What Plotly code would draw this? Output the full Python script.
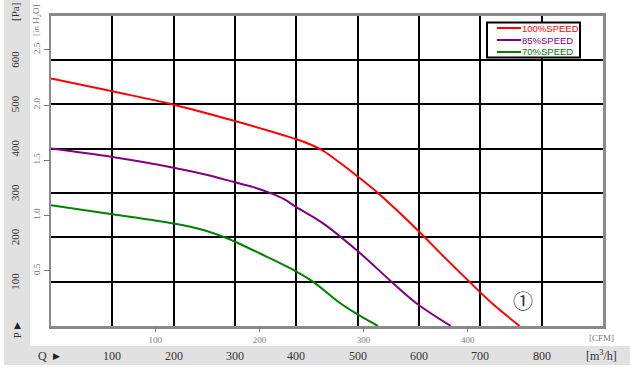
import plotly.graph_objects as go

# ---------------- data ----------------
series_names = ["100%SPEED", "85%SPEED", "70%SPEED"]
series_colors = ["#ff0000", "#800080", "#008000"]

q_100 = [0, 100, 200, 300, 400, 425, 445, 470, 500, 533, 567, 600, 640, 682, 720, 764]
p_100 = [558, 529, 499, 462, 421, 408, 394, 369, 337, 300, 257, 213, 157, 100, 50, 0]

q_85 = [0, 100, 200, 250, 300, 330, 357, 380, 400, 443, 500, 555, 598, 652]
p_85 = [400, 381, 357, 342, 324, 313, 300, 286, 268, 232, 169, 100, 49, 0]

q_70 = [0, 100, 200, 250, 283, 300, 340, 389, 427, 470, 500, 533]
p_70 = [272, 252, 231, 216, 200, 190, 164, 131, 100, 53, 26, 0]

pa_ticks = [100, 200, 300, 400, 500, 600]
m3h_ticks = [100, 200, 300, 400, 500, 600, 700, 800]
cfm_ticks = [100, 200, 300, 400]
inh2o_ticks = [0.5, 1.0, 1.5, 2.0, 2.5]
inh2o_labels = ["0.5", "1.0", "1.5", "2.0", "2.5"]

Q_MAX = 900
P_MAX = 700
M3H_PER_CFM = 1.699
PA_PER_INH2O = 249.09

W, H = 630, 372
def px(x):
    return x / W
def py(y):
    return (H - y) / H

SERIF = "Liberation Serif, Times New Roman, serif"
SANS = "Liberation Sans, Arial, sans-serif"

fig = go.Figure()
for q, p, c in zip([q_100, q_85, q_70], [p_100, p_85, p_70], series_colors):
    fig.add_trace(go.Scatter(x=q, y=p, mode="lines", line=dict(color=c, width=2, shape="spline", smoothing=1.0),
                             showlegend=False, hoverinfo="skip"))

# invisible trace to activate secondary axes
fig.add_trace(go.Scatter(x=[0], y=[0], xaxis="x2", yaxis="y2", mode="markers",
                         marker=dict(opacity=0), showlegend=False, hoverinfo="skip"))

frame_col = "#8a8a8a"
fig.update_layout(
    width=W, height=H,
    margin=dict(l=0, r=0, t=0, b=0),
    paper_bgcolor="white", plot_bgcolor="white",
    xaxis=dict(domain=[px(51), px(603)], range=[0, Q_MAX], tickvals=m3h_ticks, showticklabels=False,
               ticks="", showgrid=True, gridcolor="black", gridwidth=2, zeroline=False,
               showline=True, mirror=True, linecolor=frame_col, linewidth=2.5, fixedrange=True),
    yaxis=dict(domain=[py(326), py(15.5)], range=[0, P_MAX], tickvals=pa_ticks, showticklabels=False,
               ticks="", showgrid=True, gridcolor="black", gridwidth=2, zeroline=False,
               showline=True, mirror=True, linecolor=frame_col, linewidth=2.5, fixedrange=True),
    xaxis2=dict(overlaying="x", anchor="y", side="bottom", range=[0, Q_MAX / M3H_PER_CFM],
                tickvals=cfm_ticks, ticks="outside", ticklen=5, tickwidth=1, tickcolor="#777",
                showgrid=False, zeroline=False, showline=False, fixedrange=True,
                tickfont=dict(family=SERIF, size=9, color="#777")),
    yaxis2=dict(overlaying="y", anchor="x", side="left", range=[0, P_MAX / PA_PER_INH2O],
                tickvals=inh2o_ticks, ticktext=inh2o_labels, ticks="outside", ticklen=6, tickwidth=1,
                tickcolor="#777", tickangle=-90, showgrid=False, zeroline=False, showline=False, fixedrange=True,
                tickfont=dict(family=SERIF, size=9, color="#777")),
)

shapes = []
strip_col = "#e1e1e1"
# gray strips
shapes.append(dict(type="rect", xref="paper", yref="paper", x0=px(4), x1=px(30), y0=py(365), y1=py(0),
                   fillcolor=strip_col, line=dict(width=0), layer="below"))
shapes.append(dict(type="rect", xref="paper", yref="paper", x0=px(4), x1=px(630), y0=py(365), y1=py(346),
                   fillcolor=strip_col, line=dict(width=0), layer="below"))
# legend box
shapes.append(dict(type="rect", xref="paper", yref="paper", x0=px(487), x1=px(580), y0=py(57.5), y1=py(22.5),
                   fillcolor="white", line=dict(color="black", width=2), layer="above"))
leg_y = [28, 40, 52]
annotations = []
for name, col, ly in zip(series_names, series_colors, leg_y):
    shapes.append(dict(type="line", xref="paper", yref="paper", x0=px(497), x1=px(521), y0=py(ly), y1=py(ly),
                       line=dict(color=col, width=2), layer="above"))
    annotations.append(dict(xref="paper", yref="paper", x=px(520), y=py(ly), text=name, showarrow=False,
                            xanchor="left", yanchor="middle", font=dict(family=SANS, size=9.5, color=col)))

# Pa labels in left strip
for v in pa_ticks:
    annotations.append(dict(xref="paper", yref="y", x=px(15), y=v, text=str(v), textangle=-90, showarrow=False,
                            xanchor="center", yanchor="middle", font=dict(family=SERIF, size=11, color="#333")))
annotations.append(dict(xref="paper", yref="paper", x=px(15), y=py(12), text="[Pa]", textangle=-90, showarrow=False,
                        xanchor="center", yanchor="middle", font=dict(family=SERIF, size=11, color="#333")))
annotations.append(dict(xref="paper", yref="paper", x=px(17), y=py(325), text="▲", showarrow=False,
                        xanchor="center", yanchor="middle", font=dict(family="DejaVu Sans", size=9, color="#222")))
annotations.append(dict(xref="paper", yref="paper", x=px(17), y=py(335), text="P", textangle=-90, showarrow=False,
                        xanchor="center", yanchor="middle", font=dict(family=SERIF, size=10, color="#333")))
annotations.append(dict(xref="paper", yref="paper", x=px(37), y=py(21), text="[in H<sub>2</sub>O]", textangle=-90,
                        showarrow=False, xanchor="center", yanchor="middle",
                        font=dict(family=SERIF, size=9, color="#777")))

# m3/h labels in bottom strip
for v in m3h_ticks:
    annotations.append(dict(xref="x", yref="paper", x=v, y=py(355.5), text=str(v), showarrow=False,
                            xanchor="center", yanchor="middle", font=dict(family=SERIF, size=12, color="#333")))
annotations.append(dict(xref="paper", yref="paper", x=px(42), y=py(355.5), text="Q", showarrow=False,
                        xanchor="center", yanchor="middle", font=dict(family=SERIF, size=12, color="#333")))
annotations.append(dict(xref="paper", yref="paper", x=px(56), y=py(355.5), text="▶", showarrow=False,
                        xanchor="center", yanchor="middle", font=dict(family="DejaVu Sans", size=9, color="#222")))
annotations.append(dict(xref="paper", yref="paper", x=px(601), y=py(355.5), text="[m<sup>3</sup>/h]", showarrow=False,
                        xanchor="center", yanchor="middle", font=dict(family=SERIF, size=12, color="#333")))
annotations.append(dict(xref="paper", yref="paper", x=px(601), y=py(338), text="[CFM]", showarrow=False,
                        xanchor="center", yanchor="middle", font=dict(family=SERIF, size=9, color="#777")))
# curve number marker
annotations.append(dict(xref="x", yref="y", x=769, y=57, text="①", showarrow=False,
                        xanchor="center", yanchor="middle", font=dict(family="Noto Sans CJK JP", size=20, color="#333")))

fig.update_layout(shapes=shapes, annotations=annotations)
fig.write_html("out.html", config={"displayModeBar": False, "staticPlot": True},
               post_script="document.body.style.margin='0';")
